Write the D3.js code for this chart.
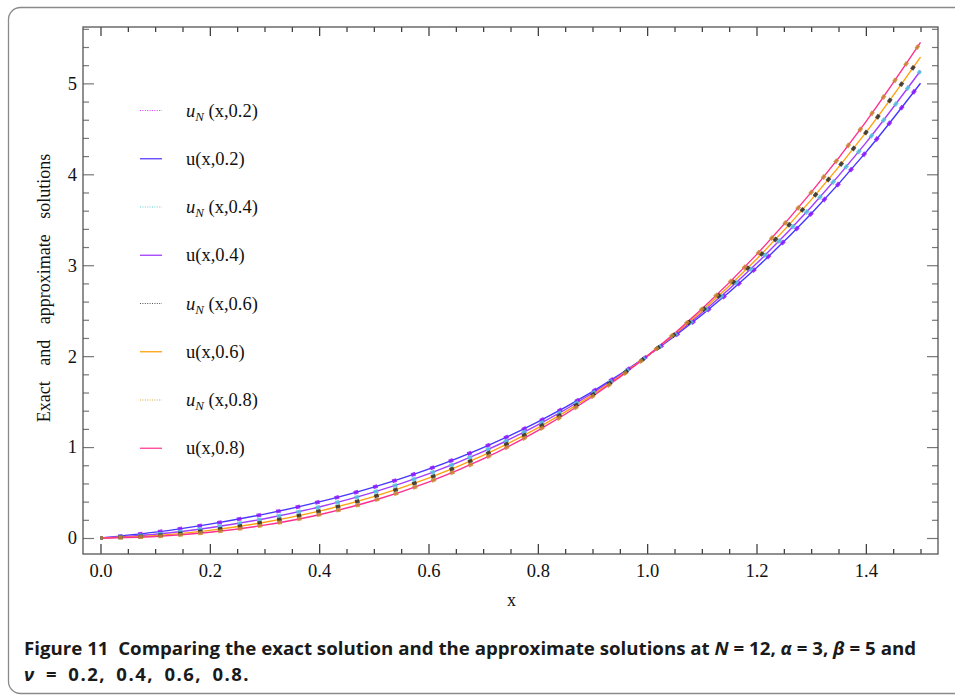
<!DOCTYPE html>
<html>
<head>
<meta charset="utf-8">
<script src="https://cdn.jsdelivr.net/npm/d3@7"></script>
<style>
html,body{margin:0;padding:0;background:#fff;}
svg{display:block;}
</style>
</head>
<body>
<div id="chart"></div>
<script>
// ---- data ----
const xValues = [0, 0.1, 0.2, 0.3, 0.4, 0.5, 0.6, 0.7, 0.8, 0.9, 1.0, 1.1, 1.2, 1.3, 1.4, 1.5];

const uExact02 = [0, 0.0641, 0.1530, 0.2628, 0.3970, 0.5603, 0.7577, 0.9948, 1.2771, 1.6102, 2.0, 2.4522, 2.9726, 3.5670, 4.2415, 5.0017];
const uExact04 = [0, 0.0408, 0.1131, 0.2123, 0.3413, 0.5039, 0.7051, 0.9499, 1.2437, 1.5919, 2.0, 2.4738, 3.0188, 3.6409, 4.3457, 5.1391];
const uExact06 = [0, 0.0261, 0.0842, 0.1727, 0.2948, 0.4549, 0.6576, 0.9081, 1.2118, 1.5739, 2.0, 2.4957, 3.0667, 3.7186, 4.4576, 5.2881];
const uExact08 = [0, 0.0169, 0.0632, 0.1415, 0.2562, 0.4122, 0.6147, 0.8692, 1.1812, 1.5563, 2.0, 2.5182, 3.1164, 3.8006, 4.5765, 5.4497];

const uApprox02 = [0, 0.064, 0.153, 0.263, 0.397, 0.560, 0.758, 0.995, 1.277, 1.610, 2.000, 2.452, 2.973, 3.567, 4.242, 5.002];
const uApprox04 = [0, 0.041, 0.113, 0.212, 0.341, 0.504, 0.705, 0.950, 1.244, 1.592, 2.000, 2.474, 3.019, 3.641, 4.346, 5.139];
const uApprox06 = [0, 0.026, 0.084, 0.173, 0.295, 0.455, 0.658, 0.908, 1.212, 1.574, 2.000, 2.496, 3.067, 3.719, 4.458, 5.288];
const uApprox08 = [0, 0.017, 0.063, 0.142, 0.256, 0.412, 0.615, 0.869, 1.181, 1.556, 2.000, 2.518, 3.116, 3.801, 4.577, 5.450];

const xMajorTicks = [0.0, 0.2, 0.4, 0.6, 0.8, 1.0, 1.2, 1.4];
const yMajorTicks = [0, 1, 2, 3, 4, 5];

const legendLabels = [
  {sub: true, nu: "0.2"}, {sub: false, nu: "0.2"},
  {sub: true, nu: "0.4"}, {sub: false, nu: "0.4"},
  {sub: true, nu: "0.6"}, {sub: false, nu: "0.6"},
  {sub: true, nu: "0.8"}, {sub: false, nu: "0.8"}
];

// ---- styling ----
const W = 955, H = 696;
const frame = {left: 83, right: 938, top: 27, bottom: 554};
const serif = "'Liberation Serif','Times New Roman',serif";

const series = [
  {vals: uExact02, kind: "exact",  color: "#4636ff", legColor: "#5a3dff"},
  {vals: uExact04, kind: "exact",  color: "#a23cff", legColor: "#a23cff"},
  {vals: uExact06, kind: "exact",  color: "#ffa20f", legColor: "#ffa20f"},
  {vals: uExact08, kind: "exact",  color: "#ff2f8e", legColor: "#ff3f9a"},
  {vals: uApprox02, kind: "approx", color: "#8f14ff", legColor: "#d63cff"},
  {vals: uApprox04, kind: "approx", color: "#4fc3dc", legColor: "#66cccc"},
  {vals: uApprox06, kind: "approx", color: "#2a2a2a", legColor: "#555555"},
  {vals: uApprox08, kind: "approx", color: "#c8862e", legColor: "#d4a82a"}
];
const legendSeries = [series[4], series[0], series[5], series[1], series[6], series[2], series[7], series[3]];

const svg = d3.select("#chart").append("svg")
  .attr("width", W).attr("height", H)
  .attr("viewBox", `0 0 ${W} ${H}`);

svg.append("rect")
  .attr("x", 8.5).attr("y", 7.5)
  .attr("width", 970).attr("height", 686)
  .attr("rx", 12).attr("ry", 12)
  .attr("fill", "none").attr("stroke", "#8a8a8a").attr("stroke-width", 1.3);

const x = d3.scaleLinear().domain([-0.032, 1.532]).range([frame.left, frame.right]);
const y = d3.scaleLinear().domain([-0.176, 5.62]).range([frame.bottom, frame.top]);

const xMinor = d3.range(0, 1.5001, 0.05).filter(v => !xMajorTicks.some(m => Math.abs(m - v) < 1e-6));
const yMinor = d3.range(0, 5.6501, 0.2).filter(v => !yMajorTicks.some(m => Math.abs(m - v) < 1e-6));

function styleAxis(g, color) {
  g.select(".domain").remove();
  g.attr("font-size", null).attr("font-family", null);
  g.selectAll(".tick line").attr("stroke", color).attr("stroke-width", 1.2);
  g.selectAll(".tick text").style("font-family", serif).style("font-size", "18.5px").attr("fill", "#111");
}

svg.append("g").attr("transform", `translate(0,${frame.bottom})`)
  .call(d3.axisBottom(x).tickValues(xMajorTicks).tickFormat(d3.format(".1f")).tickSize(-10).tickPadding(10))
  .call(g => styleAxis(g, "#333"));
svg.append("g").attr("transform", `translate(0,${frame.bottom})`)
  .call(d3.axisBottom(x).tickValues(xMinor).tickFormat("").tickSize(-5))
  .call(g => styleAxis(g, "#333"));
svg.append("g").attr("transform", `translate(0,${frame.top})`)
  .call(d3.axisTop(x).tickValues(xMajorTicks).tickFormat("").tickSize(-9))
  .call(g => styleAxis(g, "#333"));
svg.append("g").attr("transform", `translate(0,${frame.top})`)
  .call(d3.axisTop(x).tickValues(xMinor).tickFormat("").tickSize(-5))
  .call(g => styleAxis(g, "#333"));
svg.append("g").attr("transform", `translate(${frame.left},0)`)
  .call(d3.axisLeft(y).tickValues(yMajorTicks).tickFormat(d3.format("d")).tickSize(-11).tickPadding(6))
  .call(g => styleAxis(g, "#777"));
svg.append("g").attr("transform", `translate(${frame.left},0)`)
  .call(d3.axisLeft(y).tickValues(yMinor).tickFormat("").tickSize(-6))
  .call(g => styleAxis(g, "#777"));
svg.append("g").attr("transform", `translate(${frame.right},0)`)
  .call(d3.axisRight(y).tickValues(yMajorTicks).tickFormat("").tickSize(-11))
  .call(g => styleAxis(g, "#777"));
svg.append("g").attr("transform", `translate(${frame.right},0)`)
  .call(d3.axisRight(y).tickValues(yMinor).tickFormat("").tickSize(-6))
  .call(g => styleAxis(g, "#777"));

svg.append("rect")
  .attr("x", frame.left).attr("y", frame.top)
  .attr("width", frame.right - frame.left).attr("height", frame.bottom - frame.top)
  .attr("fill", "none").attr("stroke", "#555").attr("stroke-width", 1.3);

const line = d3.line()
  .x((d, i) => x(xValues[i]))
  .y(d => y(d))
  .curve(d3.curveMonotoneX);

const plot = svg.append("g");
series.filter(s => s.kind === "exact").forEach(s => {
  plot.append("path").datum(s.vals)
    .attr("d", line).attr("fill", "none")
    .attr("stroke", s.color).attr("stroke-width", 1.4);
});
series.filter(s => s.kind === "approx").forEach(s => {
  plot.append("path").datum(s.vals)
    .attr("d", line).attr("fill", "none")
    .attr("stroke", s.color).attr("stroke-width", 3.8)
    .attr("stroke-dasharray", "4.5 15.5")
    .attr("stroke-dashoffset", 2.2)
    .attr("opacity", 0.85);
});

const legY = d3.scaleLinear().domain([0, 1]).range([110.5, 158.75]);
const leg = svg.append("g");
legendSeries.forEach((s, i) => {
  const ly = legY(i);
  leg.append("line")
    .attr("x1", 140).attr("x2", 162).attr("y1", ly).attr("y2", ly)
    .attr("stroke", s.legColor)
    .attr("stroke-width", s.kind === "approx" ? 1.1 : 1.3)
    .attr("stroke-dasharray", s.kind === "approx" ? "1 1.4" : null);
  const lab = legendLabels[i];
  const t = leg.append("text")
    .attr("x", 186).attr("y", ly + 6)
    .style("font-family", serif).style("font-size", "18.5px").attr("fill", "#111");
  if (lab.sub) {
    t.append("tspan").attr("font-style", "italic").text("u");
    t.append("tspan").attr("font-style", "italic").style("font-size", "13px").attr("dy", 4).text("N");
    t.append("tspan").attr("dy", -4).text(` (x,${lab.nu})`);
  } else {
    t.text(`u(x,${lab.nu})`);
  }
});

svg.append("text")
  .attr("transform", `translate(50,288) rotate(-90)`)
  .attr("text-anchor", "middle")
  .style("font-family", serif).style("font-size", "18px").attr("fill", "#111")
  .attr("word-spacing", 11)
  .text("Exact and approximate solutions");

svg.append("text")
  .attr("x", (x(0) + x(1.5)) / 2 + 1).attr("y", 606)
  .attr("text-anchor", "middle")
  .style("font-family", serif).style("font-size", "18px").attr("fill", "#111")
  .text("x");

const capFont = "'Open Sans','Liberation Sans',sans-serif";
const cap1 = svg.append("text")
  .attr("x", 24).attr("y", 655)
  .style("white-space", "pre")
  .style("font-family", capFont).style("font-size", "17.5px").attr("font-weight", 700).attr("fill", "#1a1a1a")
  .attr("textLength", 892).attr("lengthAdjust", "spacingAndGlyphs");
cap1.append("tspan").text("Figure 11  Comparing the exact solution and the approximate solutions at ");
cap1.append("tspan").attr("font-style", "italic").text("N");
cap1.append("tspan").text(" = 12, ");
cap1.append("tspan").attr("font-style", "italic").text("α");
cap1.append("tspan").text(" = 3, ");
cap1.append("tspan").attr("font-style", "italic").text("β");
cap1.append("tspan").text(" = 5 and");

const cap2 = svg.append("text")
  .attr("x", 24).attr("y", 681)
  .style("white-space", "pre")
  .style("font-family", capFont).style("font-size", "18.5px").attr("font-weight", 700).attr("fill", "#1a1a1a")
  .style("word-spacing", "4px").style("letter-spacing", "1.5px");
cap2.append("tspan").attr("font-style", "italic").text("ν");
cap2.append("tspan").text(" = 0.2, 0.4, 0.6, 0.8.");
</script>
</body>
</html>
